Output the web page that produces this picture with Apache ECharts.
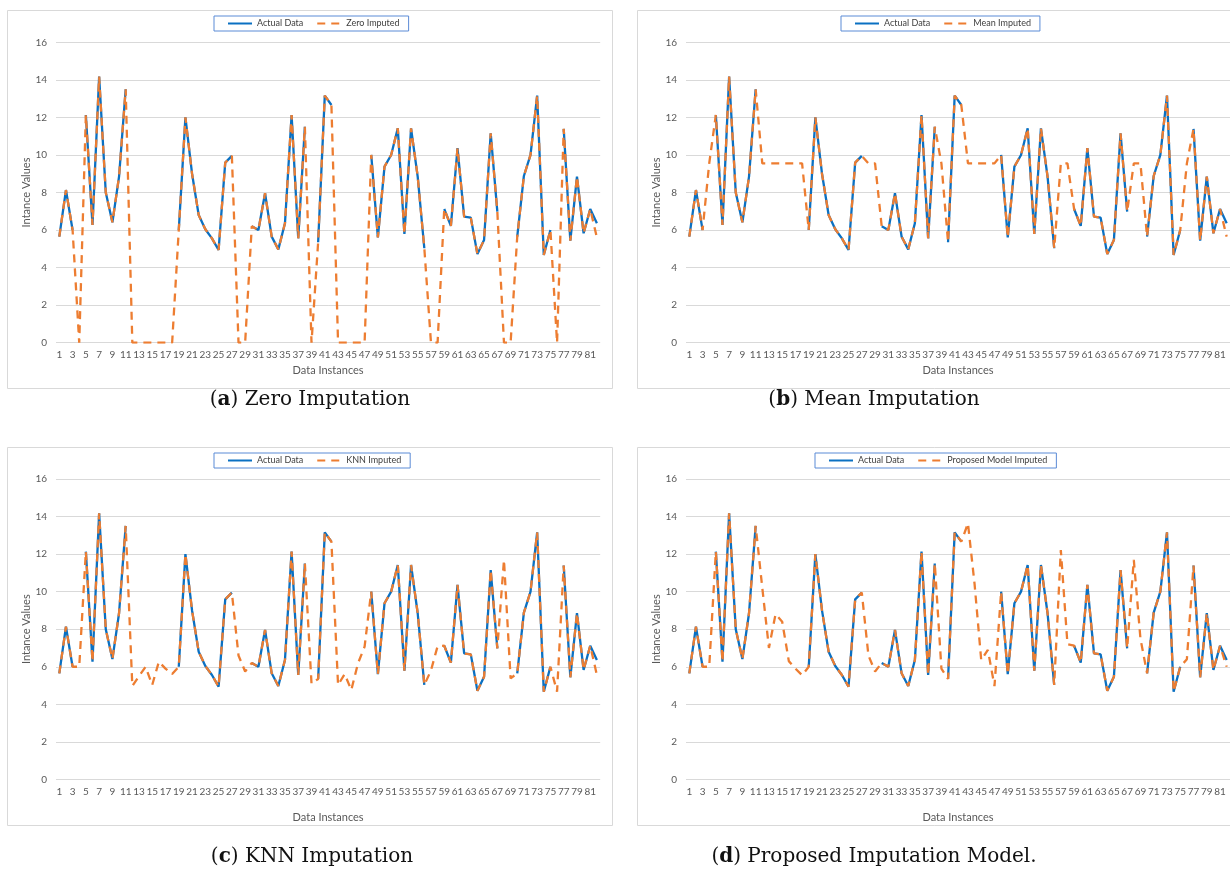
<!DOCTYPE html>
<html>
<head>
<meta charset="utf-8">
<title>Imputation comparison</title>
<script src="https://cdn.jsdelivr.net/npm/echarts@6/dist/echarts.min.js"></script>
<style>
  html, body { margin: 0; padding: 0; background: #fff; }
  #chart { width: 1230px; height: 870px; }
</style>
</head>
<body>
<div id="chart"></div>
<script>
// x axis categories: data instance numbers 1..82
var instances = []
for (var n = 1; n <= 82; n++) instances.push(String(n))

// actual series, null where the value is missing
var actualData = [
  5.65, 8.13, 6.0, null, 12.13, 6.27, 14.17, 8.0, 6.41, 8.85,
  13.5, null, null, null, null, null, null, null, 6.0, 12.0,
  9.0, 6.8, 6.04, 5.56, 4.94, 9.59, 9.95, null, null, 6.2,
  6.0, 7.96, 5.65, 4.97, 6.36, 12.13, 5.56, 11.5, null, 5.35,
  13.16, 12.66, null, null, null, null, null, 10.0, 5.61, 9.38,
  10.0, 11.42, 5.79, 11.42, 8.85, 5.03, null, null, 7.12, 6.22,
  10.36, 6.71, 6.66, 4.72, 5.47, 11.15, 6.98, null, null, 5.65,
  8.88, 10.0, 13.16, 4.67, 6.0, null, 11.39, 5.44, 8.85, 5.83,
  7.12, 6.36,
]

var zeroImputed = [
  5.65, 8.13, 6.0, 0, 12.13, 6.27, 14.17, 8.0, 6.41, 8.85,
  13.5, 0, 0, 0, 0, 0, 0, 0, 6.0, 12.0,
  9.0, 6.8, 6.04, 5.56, 4.94, 9.59, 9.95, 0, 0, 6.2,
  6.0, 7.96, 5.65, 4.97, 6.36, 12.13, 5.56, 11.5, 0, 5.35,
  13.16, 12.66, 0, 0, 0, 0, 0, 10.0, 5.61, 9.38,
  10.0, 11.42, 5.79, 11.42, 8.85, 5.03, 0, 0, 7.12, 6.22,
  10.36, 6.71, 6.66, 4.72, 5.47, 11.15, 6.98, 0, 0, 5.65,
  8.88, 10.0, 13.16, 4.67, 6.0, 0, 11.39, 5.44, 8.85, 5.83,
  7.12, 5.6,
]

var meanImputed = [
  5.65, 8.13, 6.0, 9.55, 12.13, 6.27, 14.17, 8.0, 6.41, 8.85,
  13.5, 9.55, 9.55, 9.55, 9.55, 9.55, 9.55, 9.55, 6.0, 12.0,
  9.0, 6.8, 6.04, 5.56, 4.94, 9.59, 9.95, 9.55, 9.55, 6.2,
  6.0, 7.96, 5.65, 4.97, 6.36, 12.13, 5.56, 11.5, 9.55, 5.35,
  13.16, 12.66, 9.55, 9.55, 9.55, 9.55, 9.55, 10.0, 5.61, 9.38,
  10.0, 11.42, 5.79, 11.42, 8.85, 5.03, 9.55, 9.55, 7.12, 6.22,
  10.36, 6.71, 6.66, 4.72, 5.47, 11.15, 6.98, 9.55, 9.55, 5.65,
  8.88, 10.0, 13.16, 4.67, 6.0, 9.55, 11.39, 5.44, 8.85, 5.83,
  7.12, 5.65,
]

var knnImputed = [
  5.65, 8.13, 6.0, 6.0, 12.13, 6.27, 14.17, 8.0, 6.41, 8.85,
  13.5, 4.97, 5.5, 6.0, 5.03, 6.27, 5.9, 5.61, 6.0, 12.0,
  9.0, 6.8, 6.04, 5.56, 4.94, 9.59, 9.95, 6.6, 5.75, 6.2,
  6.0, 7.96, 5.65, 4.97, 6.36, 12.13, 5.56, 11.5, 5.1, 5.35,
  13.16, 12.66, 5.03, 5.61, 4.76, 6.18, 7.07, 10.0, 5.61, 9.38,
  10.0, 11.42, 5.79, 11.42, 8.85, 5.03, 5.8, 7.1, 7.12, 6.22,
  10.36, 6.71, 6.66, 4.72, 5.47, 11.15, 6.98, 11.69, 5.38, 5.65,
  8.88, 10.0, 13.16, 4.67, 6.0, 4.67, 11.39, 5.44, 8.85, 5.83,
  7.12, 5.56,
]

var proposedImputed = [
  5.65, 8.13, 6.0, 6.0, 12.13, 6.27, 14.17, 8.0, 6.41, 8.85,
  13.5, 10.2, 7.0, 8.8, 8.4, 6.3, 5.9, 5.55, 6.0, 12.0,
  9.0, 6.8, 6.04, 5.56, 4.94, 9.59, 9.95, 6.6, 5.75, 6.2,
  6.0, 7.96, 5.65, 4.97, 6.36, 12.13, 5.56, 11.5, 5.9, 5.35,
  13.16, 12.66, 13.64, 10.4, 6.36, 6.9, 4.97, 10.0, 5.61, 9.38,
  10.0, 11.42, 5.79, 11.42, 8.85, 5.03, 12.22, 7.2, 7.12, 6.22,
  10.36, 6.71, 6.66, 4.72, 5.47, 11.15, 6.98, 11.69, 7.5, 5.65,
  8.88, 10.0, 13.16, 4.67, 6.0, 6.4, 11.39, 5.44, 8.85, 5.83,
  7.12, 6.0,
]

var blue = '#0a70c2'
var orange = '#ed7d31'
var font = 'Lato, "Open Sans", sans-serif'
var serif = '"DejaVu Serif", serif'

// layout of the four sub charts
var panels = [
  { name: 'Zero Imputed', data: zeroImputed, letter: 'a', caption: ' Zero Imputation',
    grid: { left: 56, top: 42.3, width: 544.2, height: 300.4 }, box: [7, 10, 605, 378],
    xNameGap: 22, legendLeft: 214, legendTop: 16, capX: 310, capY: 400 },
  { name: 'Mean Imputed', data: meanImputed, letter: 'b', caption: ' Mean Imputation',
    grid: { left: 686, top: 42.3, width: 545.5, height: 300.4 }, box: [637, 10, 620, 378],
    xNameGap: 22, legendLeft: 841, legendTop: 16, capX: 874, capY: 400 },
  { name: 'KNN Imputed', data: knnImputed, letter: 'c', caption: ' KNN Imputation',
    grid: { left: 56, top: 479, width: 544.2, height: 300.4 }, box: [7, 447, 605, 378],
    xNameGap: 33, legendLeft: 214, legendTop: 453, capX: 312, capY: 857 },
  { name: 'Proposed Model Imputed', data: proposedImputed, letter: 'd', caption: ' Proposed Imputation Model.',
    grid: { left: 686, top: 479, width: 545.5, height: 300.4 }, box: [637, 447, 620, 378],
    xNameGap: 33, legendLeft: 815, legendTop: 453, capX: 874, capY: 857 },
]

var myChart = echarts.init(document.getElementById('chart'))

var option = {
  animation: false,
  backgroundColor: '#fff',
  grid: panels.map(function (p) {
    return Object.assign({ containLabel: false }, p.grid)
  }),
  xAxis: panels.map(function (p, i) {
    return {
      type: 'category',
      gridIndex: i,
      data: instances,
      boundaryGap: true,
      name: 'Data Instances',
      nameLocation: 'middle',
      nameGap: p.xNameGap,
      nameTextStyle: { color: '#595959', fontSize: 11, fontFamily: font },
      axisLine: { show: false },
      axisTick: { show: false },
      axisLabel: { interval: 1, margin: 7, color: '#595959', fontSize: 10, fontFamily: font },
      splitLine: { show: false },
    }
  }),
  yAxis: panels.map(function (p, i) {
    return {
      type: 'value',
      gridIndex: i,
      min: 0,
      max: 16,
      interval: 2,
      name: 'Intance Values',
      nameLocation: 'middle',
      nameGap: 22,
      nameTextStyle: { color: '#595959', fontSize: 11, fontFamily: font },
      axisLine: { show: false },
      axisTick: { show: false },
      axisLabel: { margin: 9, color: '#595959', fontSize: 10, fontFamily: font },
      splitLine: { lineStyle: { color: '#d9d9d9', width: 1 } },
    }
  }),
  legend: panels.map(function (p) {
    return {
      data: ['Actual Data', p.name],
      left: p.legendLeft,
      top: p.legendTop,
      orient: 'horizontal',
      itemWidth: 24,
      itemHeight: 8,
      itemGap: 13,
      padding: [3, 9, 3, 13],
      borderColor: '#5b8bd6',
      borderWidth: 1,
      selectedMode: false,
      itemStyle: { opacity: 0 },
      textStyle: { color: '#404040', fontSize: 9, fontFamily: font },
    }
  }),
  series: [],
  graphic: [],
}

panels.forEach(function (p, i) {
  option.series.push({
    name: 'Actual Data',
    type: 'line',
    xAxisIndex: i,
    yAxisIndex: i,
    data: actualData,
    symbol: 'none',
    connectNulls: false,
    lineStyle: { color: blue, width: 2.3 },
    itemStyle: { color: 'rgba(0,0,0,0)', borderWidth: 0 },
    z: 2,
  })
  option.series.push({
    name: p.name,
    type: 'line',
    xAxisIndex: i,
    yAxisIndex: i,
    data: p.data,
    symbol: 'none',
    lineStyle: { color: orange, width: 2.3, type: [8, 6] },
    itemStyle: { color: 'rgba(0,0,0,0)', borderWidth: 0 },
    z: 3,
  })
  // panel border
  option.graphic.push({
    type: 'rect',
    shape: { x: p.box[0] + 0.5, y: p.box[1] + 0.5, width: p.box[2], height: p.box[3] },
    style: { fill: 'none', stroke: '#d9d9d9', lineWidth: 1 },
    silent: true,
  })
  // caption under the panel
  option.graphic.push({
    type: 'text',
    x: p.capX,
    y: p.capY,
    style: {
      text: '({b|' + p.letter + '})' + p.caption,
      font: '20px ' + serif,
      fill: '#111',
      align: 'center',
      verticalAlign: 'middle',
      rich: {
        b: { fontWeight: 'bold', fontSize: 20, fontFamily: serif, fill: '#111' },
      },
    },
    silent: true,
  })
})

myChart.setOption(option)
window.addEventListener('resize', function () {
  myChart.resize()
})
</script>
</body>
</html>
